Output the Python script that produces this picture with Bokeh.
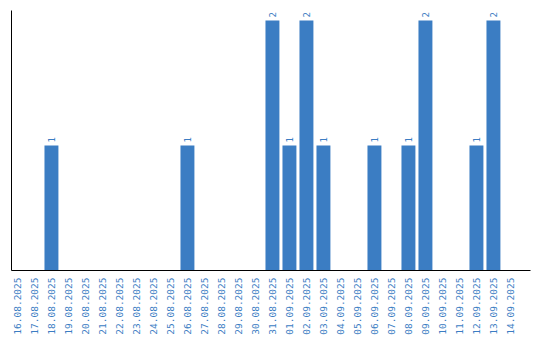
import math
from bokeh.plotting import figure
from bokeh.models import Range1d, FixedTicker, ColumnDataSource
from bokeh.core.properties import value
from bokeh.embed import file_html
from bokeh.resources import INLINE

dates = ["16.08.2025", "17.08.2025", "18.08.2025", "19.08.2025", "20.08.2025",
         "21.08.2025", "22.08.2025", "23.08.2025", "24.08.2025", "25.08.2025",
         "26.08.2025", "27.08.2025", "28.08.2025", "29.08.2025", "30.08.2025",
         "31.08.2025", "01.09.2025", "02.09.2025", "03.09.2025", "04.09.2025",
         "05.09.2025", "06.09.2025", "07.09.2025", "08.09.2025", "09.09.2025",
         "10.09.2025", "11.09.2025", "12.09.2025", "13.09.2025", "14.09.2025"]
counts = [0, 0, 1, 0, 0, 0, 0, 0, 0, 0,
          1, 0, 0, 0, 0, 2, 1, 2, 1, 0,
          0, 1, 0, 1, 2, 0, 0, 1, 2, 0]

BLUE = "#3b7dc3"
xs = list(range(len(dates)))
bx = [i for i, c in zip(xs, counts) if c > 0]
by = [c for c in counts if c > 0]
src = ColumnDataSource(dict(x=bx, top=by, label=[str(c) for c in by]))

p = figure(width=540, height=340, output_backend="svg", toolbar_location=None,
           x_range=Range1d(-0.35, 30.18), y_range=Range1d(0, 2.08),
           min_border_left=11, min_border_right=10, min_border_top=10, min_border_bottom=70)
p.outline_line_color = None
p.xgrid.grid_line_color = None
p.ygrid.grid_line_color = None
p.background_fill_color = "white"
p.border_fill_color = "white"

p.vbar(x="x", top="top", width=0.82, bottom=0, source=src, fill_color=BLUE, line_color=None)
p.text(x="x", y="top", text="label", source=src, angle=math.pi / 2,
       text_align="left", text_baseline="middle", y_offset=-3,
       text_color=BLUE, text_font=value("DejaVu Sans Mono"), text_font_size="9px")

xa = p.xaxis[0]
xa.ticker = FixedTicker(ticks=xs)
xa.major_label_overrides = {i: d for i, d in zip(xs, dates)}
xa.major_label_orientation = math.pi / 2
xa.major_tick_line_color = None
xa.minor_tick_line_color = None
xa.major_tick_out = 0
xa.major_tick_in = 0
xa.minor_tick_out = 0
xa.major_label_standoff = 7
xa.major_label_text_color = BLUE
xa.major_label_text_font = "DejaVu Sans Mono"
xa.major_label_text_font_size = "9.5px"
xa.axis_line_color = "black"

ya = p.yaxis[0]
ya.ticker = FixedTicker(ticks=[])
ya.major_tick_line_color = None
ya.minor_tick_line_color = None
ya.major_tick_out = 0
ya.major_tick_in = 0
ya.minor_tick_out = 0
ya.major_label_standoff = 0
ya.axis_line_color = "black"

open("out.html", "w").write(file_html(p, INLINE))
